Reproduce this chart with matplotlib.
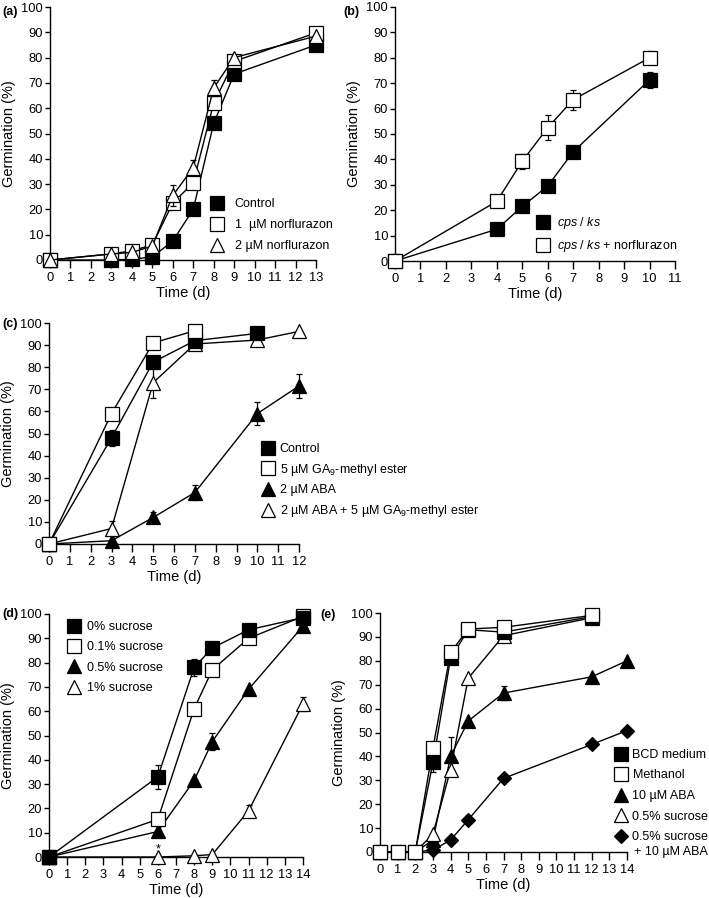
import matplotlib
matplotlib.use("Agg")
import matplotlib.pyplot as plt
from matplotlib.lines import Line2D

plt.rcParams['font.family'] = ['Liberation Sans', 'DejaVu Sans']
plt.rcParams['mathtext.fontset'] = 'custom'
plt.rcParams['mathtext.rm'] = 'Liberation Sans'
plt.rcParams['mathtext.it'] = 'Liberation Sans:italic'

# ---------------- data ----------------
# (a)
a_days = [0, 3, 4, 5, 6, 7, 8, 9, 13]
a_control = [0, 0, 0.3, 1.2, 7.5, 20, 54, 73.5, 85]
a_norf1 = [0, 2.4, 3.6, 6, 22.5, 30.5, 62, 78.5, 89.8]
a_norf2 = [0, 2.4, 3, 5.5, 25.5, 36.5, 68, 80, 88.5]
a_norf2_err = [0, 0, 0, 0, 4, 3, 3, 0, 0]
a_labels = ['Control', '1  \u00b5M norflurazon', '2 \u00b5M norflurazon']

# (b)
b_days = [0, 4, 5, 6, 7, 10]
b_cpsks = [0, 12.5, 21.5, 29.5, 43, 71.3]
b_cpsks_err = [0, 0, 0, 0, 0, 3.2]
b_cpsks_norf = [0, 23.5, 39.3, 52.5, 63.5, 80]
b_cpsks_norf_err = [0, 0, 3, 5, 4, 2.5]
b_labels = ['$\\mathit{cps}$ / $\\mathit{ks}$', '$\\mathit{cps}$ / $\\mathit{ks}$ + norflurazon']

# (c)
c_days = [0, 3, 5, 7, 10, 12]
c_control = [0, 48, 82.3, 92, 95.3]
c_control_err = [0, 3.5, 0, 0, 0]
c_ga9 = [0, 59, 91, 96.5]
c_ga9_err = [0, 2.5, 0, 0]
c_aba = [0, 1.5, 12, 23.3, 59, 71.5]
c_aba_err = [0, 0, 2.5, 3.2, 5.3, 5.5]
c_aba_ga9 = [0, 7, 73, 90.5, 92.3, 96.2]
c_aba_ga9_err = [0, 3.5, 7, 0, 0, 0]
c_labels = ['Control', '5 \u00b5M GA$_{9}$-methyl ester', '2 \u00b5M ABA',
            '2 \u00b5M ABA + 5 \u00b5M GA$_{9}$-methyl ester']

# (d)
d_days = [0, 6, 8, 9, 11, 14]
d_suc0 = [0, 33, 78, 86, 93.5, 98.5]
d_suc0_err = [0, 5, 3.5, 0, 0, 0]
d_suc01 = [0, 15.5, 61, 77, 90, 99]
d_suc05 = [0, 10.5, 31.5, 47.5, 69, 95]
d_suc05_err = [0, 0, 0, 3.5, 0, 0]
d_suc1 = [0, 0, 0.5, 1, 19, 63]
d_suc1_err = [0, 0, 0, 0, 2.5, 3]
d_labels = ['0% sucrose', '0.1% sucrose', '0.5% sucrose', '1% sucrose']

# (e)
e_days = [0, 1, 2, 3, 4, 5, 7, 12, 14]
e_bcd = [0, 0, 0, 37.5, 81, 93, 92, 98.5]
e_bcd_err = [0, 0, 0, 4, 0, 0, 0, 0]
e_meoh = [0, 0, 0, 43.5, 83.5, 93.3, 94, 99]
e_aba = [0, 0, 0, 5, 40, 54.8, 66.5, 73.3, 80]
e_aba_err = [0, 0, 0, 0, 8, 0, 3, 0, 0]
e_suc = [0, 0, 0, 7.5, 34.5, 72.7, 90.5, 98]
e_suc_aba = [0, 0, 0, 0.8, 5, 13.5, 30.8, 45, 50.8]
e_labels = ['BCD medium', 'Methanol', '10 \u00b5M ABA', '0.5% sucrose',
            '0.5% sucrose']
e_label_extra = '+ 10 \u00b5M ABA'

# ---------------- styles ----------------
SQF = dict(marker='s', mfc='black', mec='black', ms=9.5)
SQO = dict(marker='s', mfc='white', mec='black', ms=9.5)
TRF = dict(marker='^', mfc='black', mec='black', ms=10.5)
TRO = dict(marker='^', mfc='white', mec='black', ms=10.5)
DIA = dict(marker='D', mfc='black', mec='black', ms=7.5)

W, H = 709, 898
fig = plt.figure(figsize=(W / 100, H / 100), dpi=100)


def make_ax(l, r, t, b):
    return fig.add_axes([l / W, 1 - b / H, (r - l) / W, (b - t) / H])


def series(ax, x, y, st, err=None, z=3):
    x = x[:len(y)]
    if err is not None:
        ax.errorbar(x, y, yerr=err, fmt='none', ecolor='black', elinewidth=0.9,
                    capsize=2.5, capthick=0.9, zorder=z - 0.5, clip_on=False)
    ax.plot(x, y, color='black', lw=1.0, mew=0.9, zorder=z, clip_on=False, **st)


def style(ax, xmax, letter, lx, ly):
    ax.set_xlim(0, xmax)
    ax.set_ylim(0, 100)
    ax.set_xticks(range(0, xmax + 1))
    ax.set_yticks(range(0, 101, 10))
    for s in ['top', 'right']:
        ax.spines[s].set_visible(False)
    for s in ['left', 'bottom']:
        ax.spines[s].set_linewidth(1.0)
    ax.tick_params(axis='x', direction='out', length=5.5, width=1.0, labelsize=9.3,
                   colors='black', pad=3)
    ax.tick_params(axis='y', direction='out', length=3.5, width=1.0, labelsize=9.3,
                   colors='black', pad=1.5)
    ax.set_xlabel('Time (d)', fontsize=10.5, labelpad=1.5)
    ax.set_ylabel('Germination (%)', fontsize=10.5, labelpad=4)
    fig.text(lx / W, 1 - ly / H, letter, fontsize=9, fontweight='bold',
             ha='left', va='center')


def legend(ax, styles, labels, x, y, spacing=0.55, tpad=0.4):
    hs = [Line2D([], [], ls='none', mew=0.9, **st) for st in styles]
    ax.legend(hs, labels, loc='upper left', bbox_to_anchor=(x, y),
              bbox_transform=fig.transFigure, frameon=False, fontsize=9,
              handlelength=1.0, handletextpad=tpad, labelspacing=spacing,
              borderpad=0, borderaxespad=0, numpoints=1)


def fx(px):
    return px / W


def fy(py):
    return 1 - py / H


# (a)
ax = make_ax(50, 316, 7, 260)
series(ax, a_days, a_control, SQF)
series(ax, a_days, a_norf1, SQO, z=4)
series(ax, a_days, a_norf2, TRO, a_norf2_err, z=5)
style(ax, 13, '(a)', 2, 12)
legend(ax, [SQF, SQO, TRO], a_labels, fx(211), fy(198), spacing=0.72, tpad=0.9)

# (b)
ax = make_ax(395, 675, 7, 261)
series(ax, b_days, b_cpsks, SQF, b_cpsks_err)
series(ax, b_days, b_cpsks_norf, SQO, b_cpsks_norf_err, z=4)
style(ax, 11, '(b)', 343, 12)
legend(ax, [SQF, SQO], b_labels, fx(537), fy(215), spacing=0.55, tpad=0.6)

# (c)
ax = make_ax(49, 299, 323, 544)
series(ax, c_days, c_aba, TRF, c_aba_err)
series(ax, c_days, c_aba_ga9, TRO, c_aba_ga9_err, z=4)
series(ax, c_days, c_control, SQF, c_control_err, z=5)
series(ax, c_days, c_ga9, SQO, c_ga9_err, z=6)
style(ax, 12, '(c)', 2, 324)
legend(ax, [SQF, SQO, TRF, TRO], c_labels, fx(262), fy(443), spacing=0.53)

# (d)
ax = make_ax(49, 303, 614, 857)
series(ax, d_days, d_suc1, TRO, d_suc1_err)
series(ax, d_days, d_suc05, TRF, d_suc05_err, z=4)
series(ax, d_days, d_suc01, SQO, z=5)
series(ax, d_days, d_suc0, SQF, d_suc0_err, z=6)
ax.text(6, 3.2, '*', ha='center', va='center', fontsize=9)
style(ax, 14, '(d)', 2, 614)
legend(ax, [SQF, SQO, TRF, TRO], d_labels, fx(68), fy(621), spacing=0.67, tpad=0.55)

# (e)
ax = make_ax(380, 627, 613, 852)
series(ax, e_days, e_suc_aba, DIA)
series(ax, e_days, e_aba, TRF, e_aba_err, z=4)
series(ax, e_days, e_suc, TRO, z=5)
series(ax, e_days, e_bcd, SQF, e_bcd_err, z=6)
series(ax, e_days, e_meoh, SQO, z=7)
style(ax, 14, '(e)', 320, 615)
legend(ax, [SQF, SQO, TRF, TRO, DIA], e_labels, fx(615), fy(749), spacing=0.68)
fig.text(fx(634), fy(852), e_label_extra, fontsize=9, ha='left', va='center')

fig.savefig('out.png', dpi=100)
